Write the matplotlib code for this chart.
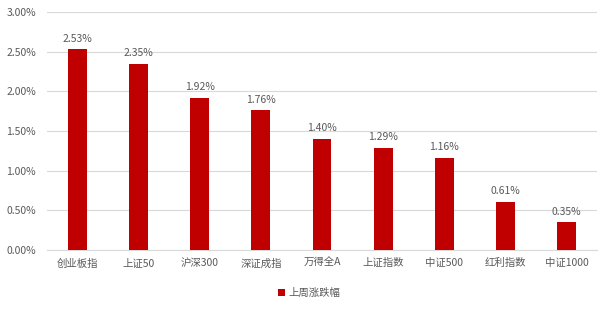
import matplotlib.pyplot as plt
from matplotlib.ticker import FuncFormatter, MultipleLocator

plt.rcParams['font.family'] = ['Noto Sans CJK SC', 'DejaVu Sans']

# data
categories = ['创业板指', '上证50', '沪深300', '深证成指', '万得全A', '上证指数', '中证500', '红利指数', '中证1000']
values = [2.53, 2.35, 1.92, 1.76, 1.40, 1.29, 1.16, 0.61, 0.35]
series_name = '上周涨跌幅'

txt = '#595959'
fs = 7.5
fig = plt.figure(figsize=(6.1, 3.1), dpi=100)
ax = fig.add_axes([47 / 610, 1 - 250 / 310, 550 / 610, 238 / 310])

bars = ax.bar(range(len(categories)), values, width=0.31, color='#C00000', label=series_name, zorder=3)
for i, v in enumerate(values):
    ax.text(i, v + 0.07, f'{v:.2f}%', ha='center', va='bottom', fontsize=fs, color=txt, zorder=4)

ax.set_ylim(0, 3.0)
ax.set_xlim(-0.5, len(categories) - 0.5)
ax.yaxis.set_major_locator(MultipleLocator(0.5))
ax.yaxis.set_major_formatter(FuncFormatter(lambda y, p: f'{y:.2f}%'))
ax.grid(axis='y', color='#d9d9d9', linewidth=0.8, zorder=0)
ax.set_xticks(range(len(categories)))
ax.set_xticklabels(categories)
ax.tick_params(axis='both', length=0, labelsize=fs, colors=txt)
ax.tick_params(axis='x', pad=6)
ax.tick_params(axis='y', pad=8)
for s in ['top', 'right', 'left']:
    ax.spines[s].set_visible(False)
ax.spines['bottom'].set_color('#d9d9d9')

leg = fig.legend(handles=[bars], labels=[series_name], loc='center', bbox_to_anchor=(309 / 610, 1 - 293 / 310),
                 frameon=False, fontsize=fs, handlelength=0.7, handleheight=0.7, handletextpad=0.3)
for t in leg.get_texts():
    t.set_color(txt)

fig.savefig('out.png', dpi=100)
